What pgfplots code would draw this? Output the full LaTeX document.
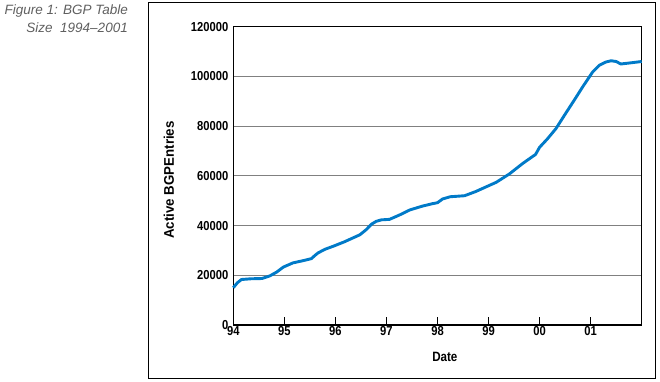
\documentclass[border=0pt]{standalone}
\usepackage{fontspec}
\setmainfont{Liberation Sans}
\newfontfamily\cb[FakeStretch=0.86]{Liberation Sans}
\newfontfamily\cbl[FakeStretch=0.95]{Liberation Sans}
\usepackage{pgfplots}
\pgfplotsset{compat=1.18}
\definecolor{linecol}{RGB}{0,122,200}
\definecolor{capgray}{RGB}{95,95,95}
\definecolor{gridgray}{RGB}{128,128,128}
\begin{document}
\begin{tikzpicture}
\path[use as bounding box] (0pt,0pt) rectangle (660pt,381pt);
\draw[line width=1pt] (148.3pt,3pt) rectangle (655.7pt,378.3pt);
\node[anchor=base east, inner sep=0, font=\itshape\fontsize{13.5}{16}\selectfont, text=capgray] at (128pt,366pt) {Figure 1: BGP Table};
\node[anchor=base east, inner sep=0, font=\itshape\fontsize{13.5}{16}\selectfont, text=capgray] at (128pt,348pt) {Size\ \ 1994--2001};
\begin{axis}[
  at={(233.3pt,56pt)}, anchor=south west,
  scale only axis, width=408.4pt, height=298.3pt,
  xmin=1994, xmax=2002, ymin=0, ymax=120000,
  xtick={1994,1995,1996,1997,1998,1999,2000,2001},
  xticklabels={94,95,96,97,98,99,00,01},
  ytick={0,20000,40000,60000,80000,100000,120000},
  yticklabels={0,20000,40000,60000,80000,100000,120000},
  /pgf/number format/assume math mode=true,
  axis line style={line width=1.2pt, black},
  tick align=inside,
  xtick pos=bottom, ytick pos=left,
  major tick length=8pt,
  xtick style={draw=black, line width=1.3pt},
  ytick style={draw=gridgray, line width=0.9pt},
  ymajorgrids=true,
  grid style={gridgray, line width=0.9pt},
  tick label style={font=\cb\bfseries\fontsize{13}{13}\selectfont},
  xticklabel style={yshift=2pt},
  yticklabel style={xshift=-1.5pt},
  scaled y ticks=false,
  xlabel={\cb\bfseries\fontsize{13.5}{14}\selectfont Date},
  xlabel style={at={(axis description cs:0.518,0)}, anchor=north, yshift=-24pt},
  ylabel={\cbl\bfseries\fontsize{14}{14}\selectfont Active BGPEntries},
  ylabel style={at={(axis description cs:-0.158,0.486)}, anchor=center},
  clip=false,
]
\addplot[linecol, line width=2.9pt, line join=round] table {
x y
1994.00 15000
1994.08 17000
1994.16 18300
1994.35 18600
1994.56 18700
1994.72 19800
1994.85 21300
1994.98 23300
1995.17 25000
1995.35 25800
1995.53 26700
1995.60 28000
1995.66 29000
1995.80 30500
1995.96 31700
1996.18 33500
1996.48 36300
1996.60 38300
1996.71 40600
1996.80 41700
1996.90 42300
1997.06 42500
1997.25 44200
1997.46 46300
1997.70 47800
1997.90 48800
1998.00 49200
1998.10 50700
1998.25 51600
1998.53 52000
1998.75 53700
1998.89 55000
1999.15 57400
1999.41 60800
1999.67 65000
1999.85 67600
1999.92 68600
2000.00 71500
2000.15 74800
2000.32 79000
2000.50 84800
2000.68 90500
2000.85 96000
2001.04 101800
2001.17 104500
2001.30 105800
2001.40 106300
2001.50 106000
2001.59 105000
2001.76 105400
2002.00 106000
};
\end{axis}
\foreach \k in {1,...,7} {
  \draw[black, line width=1.3pt] ({233.3pt+51.05pt*\k},56pt) -- ({233.3pt+51.05pt*\k},64pt);
}
\end{tikzpicture}
\end{document}
